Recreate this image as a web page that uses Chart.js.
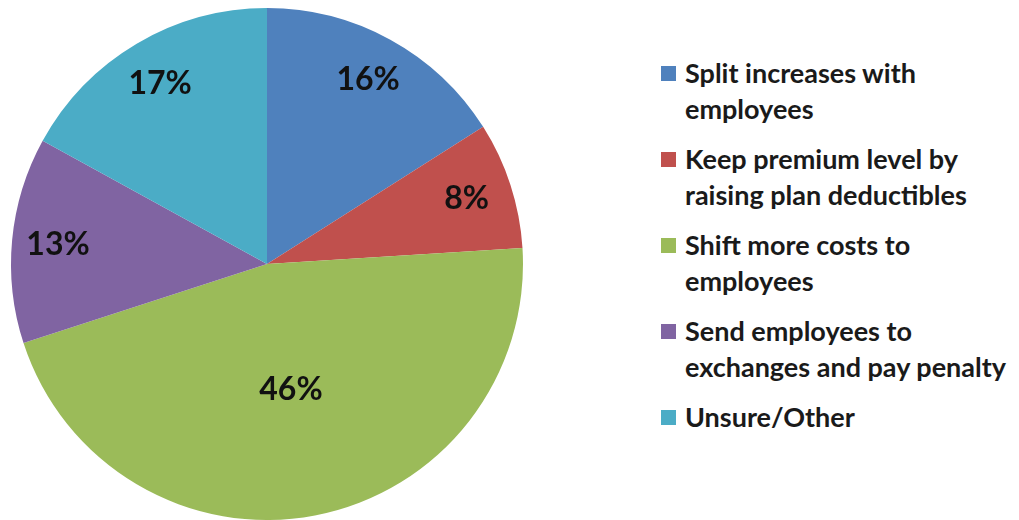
<!DOCTYPE html>
<html>
<head>
<meta charset="utf-8">
<script src="https://cdn.jsdelivr.net/npm/chart.js@4.4.1/dist/chart.umd.min.js"></script>
<style>
  html, body { margin: 0; padding: 0; background: #fff; }
  body { width: 1019px; height: 520px; position: relative; overflow: hidden; font-family: Lato, "Open Sans", sans-serif; }
  .pie-box { position: absolute; left: 0; top: 0; width: 534px; height: 520px; }
  #legend { position: absolute; left: 661px; top: 55px; }
  .item { display: flex; align-items: flex-start; margin-bottom: 14px; }
  .swatch { width: 15px; height: 15px; margin-top: 11px; margin-right: 9px; flex: none; }
  .txt { font-weight: bold; font-size: 27px; line-height: 36px; color: #1a1a1a; white-space: nowrap; }
</style>
</head>
<body>
<div class="pie-box"><canvas id="pie"></canvas></div>
<div id="legend"></div>
<script>
// values
const categories = [
  ['Split increases with', 'employees'],
  ['Keep premium level by', 'raising plan deductibles'],
  ['Shift more costs to', 'employees'],
  ['Send employees to', 'exchanges and pay penalty'],
  ['Unsure/Other']
];
const shares = [16, 8, 46, 13, 17];
const colors = ['#4F81BD', '#C0504D', '#9BBB59', '#8064A2', '#4BACC6'];

// percent labels inside the slices
const pctLabels = {
  id: 'pctLabels',
  afterDatasetsDraw(chart) {
    const ctx = chart.ctx;
    const meta = chart.getDatasetMeta(0);
    ctx.save();
    ctx.font = 'bold 32px Lato, "Open Sans", sans-serif';
    ctx.fillStyle = '#111';
    ctx.textAlign = 'center';
    ctx.textBaseline = 'middle';
    meta.data.forEach((arc, i) => {
      const p = arc.getProps(['x', 'y', 'startAngle', 'endAngle', 'outerRadius']);
      const mid = (p.startAngle + p.endAngle) / 2;
      const r = p.outerRadius * (shares[i] > 40 ? 0.5 : 0.82);
      ctx.fillText(shares[i] + '%', p.x + Math.cos(mid) * r, p.y + Math.sin(mid) * r);
    });
    ctx.restore();
  }
};

new Chart(document.getElementById('pie'), {
  type: 'pie',
  data: {
    labels: categories.map(c => c.join(' ')),
    datasets: [{
      data: shares,
      backgroundColor: colors,
      borderWidth: 0
    }]
  },
  options: {
    responsive: true,
    maintainAspectRatio: false,
    animation: false,
    layout: { padding: { top: 8, bottom: 0 } },
    plugins: {
      legend: { display: false },
      tooltip: { enabled: false }
    }
  },
  plugins: [pctLabels]
});

// legend on the right, built from the same arrays
const legend = document.getElementById('legend');
categories.forEach((lines, i) => {
  const item = document.createElement('div');
  item.className = 'item';
  item.innerHTML = '<div class="swatch" style="background:' + colors[i] + '"></div>' +
    '<div class="txt">' + lines.join('<br>') + '</div>';
  legend.appendChild(item);
});
</script>
</body>
</html>
